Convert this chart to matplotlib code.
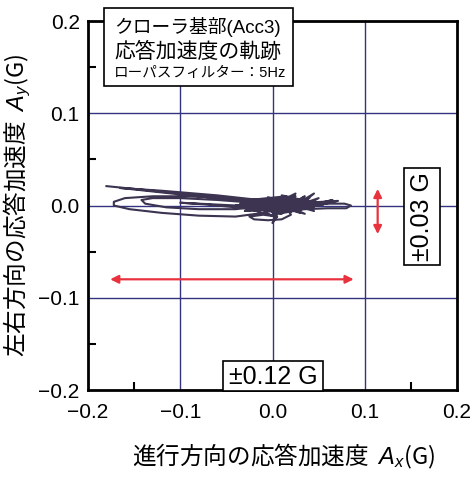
import matplotlib
matplotlib.use("Agg")
import matplotlib.pyplot as plt

NUMF = 'Liberation Sans'
CJK = ['Noto Sans CJK JP', 'Liberation Sans', 'DejaVu Sans']
plt.rcParams['font.family'] = ['Liberation Sans', 'Noto Sans CJK JP', 'DejaVu Sans']
plt.rcParams['mathtext.fontset'] = 'custom'
plt.rcParams['mathtext.it'] = 'Liberation Sans:italic'
plt.rcParams['mathtext.rm'] = 'Liberation Sans'
plt.rcParams['axes.unicode_minus'] = True

# ---- data ----
traj_x = [-0.180, -0.120, -0.060, -0.020, 0.010, -0.015, 0.020, 0.005, 0.030, -0.005,
          0.025, 0.015, 0.040, 0.010, 0.045, 0.030, 0.060, 0.035,
          0.060, 0.080, 0.085, 0.078, 0.055, 0.040,
          0.020, 0.000, -0.030, 0.010, -0.010, 0.015,
          0.020, 0.010, -0.005, -0.020, -0.025, -0.010, 0.005, 0.000, 0.003,
          -0.010, -0.040, -0.080, -0.120, -0.155, -0.172, -0.172, -0.160, -0.130, -0.090, -0.050, -0.020,
          0.005, -0.025, 0.015, -0.005,
          -0.040, -0.080, -0.115, -0.138, -0.142, -0.130, -0.100, -0.060, -0.020,
          0.010, -0.020, 0.025, 0.000, 0.035, 0.015, 0.050, 0.025, 0.065, 0.040,
          -0.060, -0.120, -0.165, -0.100, -0.040,
          0.000, -0.030, 0.020, -0.010, 0.030, 0.010, 0.045, 0.020, 0.071, 0.040,
          -0.035, 0.010, -0.030, 0.020, -0.020, 0.030, -0.010, 0.040, 0.000, 0.050,
          -0.025, 0.015, -0.040, 0.005, -0.015, 0.035, -0.005, 0.045, 0.010, 0.055,
          -0.020, 0.025, -0.030, 0.000,
          -0.040, -0.100, -0.070, -0.030, 0.000]
traj_y = [0.021, 0.015, 0.009, 0.005, 0.002, -0.004, 0.006, -0.006, 0.004, -0.002,
          0.013, 0.000, 0.008, -0.008, 0.013, 0.001, 0.004, -0.004,
          -0.003, -0.003, 0.000, 0.002, 0.002, -0.002,
          0.008, -0.004, 0.003, 0.007, -0.008, -0.002,
          -0.010, -0.015, -0.016, -0.015, -0.012, -0.010, -0.012, -0.019, -0.012,
          -0.008, -0.012, -0.011, -0.008, -0.004, 0.000, 0.004, 0.008, 0.010, 0.010, 0.008, 0.005,
          -0.003, 0.006, 0.010, 0.000,
          -0.004, -0.004, -0.002, 0.002, 0.006, 0.008, 0.008, 0.006, 0.003,
          0.006, -0.006, 0.005, -0.010, 0.010, -0.004, 0.008, -0.006, 0.006, 0.000,
          0.011, 0.016, 0.019, 0.012, 0.006,
          0.000, -0.006, 0.004, 0.004, -0.008, 0.009, -0.002, 0.002, 0.005, -0.002,
          0.002, -0.009, 0.005, -0.007, 0.007, -0.005, 0.004, -0.003, -0.010, 0.003,
          -0.006, 0.008, 0.000, -0.012, 0.006, -0.009, 0.009, -0.006, 0.011, 0.001,
          -0.004, 0.010, -0.002, -0.006,
          0.000, 0.003, 0.001, -0.003, -0.002]

h_arrow_x = [-0.176, 0.088]
h_arrow_y = -0.080
v_arrow_x = 0.114
v_arrow_y = [0.018, -0.031]

xticks = [-0.2, -0.1, 0.0, 0.1, 0.2]
yticks = [-0.2, -0.1, 0.0, 0.1, 0.2]
minor_ticks = [-0.15, -0.05, 0.05, 0.15]

title_lines = ["クローラ基部(Acc3)", "応答加速度の軌跡", "ローパスフィルター：5Hz"]
xlabel = "進行方向の応答加速度  $A_x$(G)"
ylabel = "左右方向の応答加速度  $A_y$(G)"
box_x_text = "±0.12 G"
box_y_text = "±0.03 G"

# ---- figure ----
fig = plt.figure(figsize=(4.71, 4.79), dpi=100)
ax = fig.add_axes([88/471, 1 - 390/479, (457-88)/471, (390-21)/479])
ax.set_xlim(-0.2, 0.2)
ax.set_ylim(-0.2, 0.2)

grid_c = '#33337f'
for v in [-0.1, 0.0, 0.1]:
    ax.axvline(v, color=grid_c, lw=1.0, zorder=1)
    ax.axhline(v, color=grid_c, lw=1.0, zorder=1)

ax.plot(traj_x, traj_y, color='#3c3450', lw=1.5, zorder=3)

ax.annotate('', xy=(h_arrow_x[0], h_arrow_y), xytext=(h_arrow_x[1], h_arrow_y),
            arrowprops=dict(arrowstyle='<|-|>', color='#e8333f', lw=1.6,
                            mutation_scale=12, shrinkA=0, shrinkB=0), zorder=4)
ax.annotate('', xy=(v_arrow_x, v_arrow_y[0]), xytext=(v_arrow_x, v_arrow_y[1]),
            arrowprops=dict(arrowstyle='<|-|>', color='#e8333f', lw=1.6,
                            mutation_scale=12, shrinkA=0, shrinkB=0), zorder=4)

ax.set_xticks(xticks)
ax.set_yticks(yticks)
ax.set_xticklabels([f"{t:.1f}".replace('-', '\u2212') for t in xticks], family=NUMF, fontsize=15)
ax.set_yticklabels([f"{t:.1f}".replace('-', '\u2212') for t in yticks], family=NUMF, fontsize=15)
ax.set_xticks(minor_ticks, minor=True)
ax.set_yticks(minor_ticks, minor=True)
ax.tick_params(which='both', direction='in', top=False, right=False, color='black')
ax.tick_params(which='major', length=0)
ax.tick_params(axis='x', which='major', pad=9)
ax.tick_params(axis='y', which='major', pad=6)
ax.tick_params(which='minor', length=6, width=1.5)
for s in ax.spines.values():
    s.set_linewidth(2.0)
    s.set_color('black')

ax.set_xlabel(xlabel, fontsize=17, family=CJK)
ax.xaxis.set_label_coords(0.531, -0.141)
ax.set_ylabel(ylabel, fontsize=17, family=CJK)
ax.yaxis.set_label_coords(-0.149, 0.50)

# title box
fig.patches.append(plt.Rectangle((104/471, 1 - 86/479), (293-104)/471, (86-8)/479,
                                 transform=fig.transFigure, facecolor='white',
                                 edgecolor='black', lw=1.2, zorder=5))
fig.text(114/471, 1 - 27/479, title_lines[0], fontsize=13.5, va='center', ha='left', zorder=6)
fig.text(114/471, 1 - 52/479, title_lines[1], fontsize=15, va='center', ha='left', zorder=6)
fig.text(114/471, 1 - 73/479, title_lines[2], fontsize=10.5, va='center', ha='left', zorder=6)

# ±0.12 G box
fig.patches.append(plt.Rectangle((223/471, 1 - 391/479), (323-223)/471, (391-361)/479,
                                 transform=fig.transFigure, facecolor='white',
                                 edgecolor='black', lw=1.2, zorder=5))
fig.text(273/471, 1 - 377/479, box_x_text, fontsize=18, family=NUMF,
         va='center', ha='center', zorder=6)

# ±0.03 G box
fig.patches.append(plt.Rectangle((404/471, 1 - 265/479), (440-404)/471, (265-168)/479,
                                 transform=fig.transFigure, facecolor='white',
                                 edgecolor='black', lw=1.2, zorder=5))
fig.text(422/471, 1 - 217/479, box_y_text, fontsize=18, family=NUMF,
         va='center', ha='center', rotation=90, zorder=6)

fig.savefig('out.png', dpi=100, facecolor='white')
